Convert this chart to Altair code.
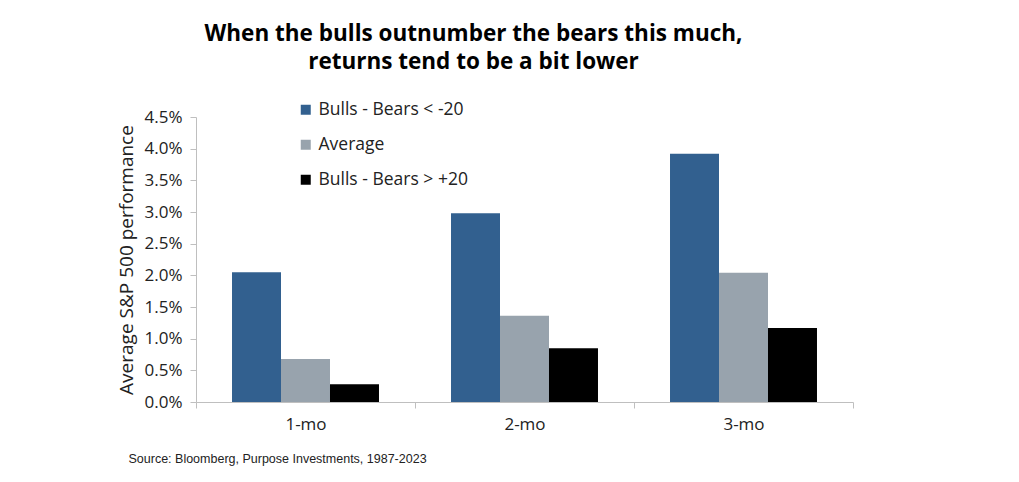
import altair as alt
import pandas as pd

periods = ["1-mo", "2-mo", "3-mo"]
series = ["Bulls - Bears < -20", "Average", "Bulls - Bears > +20"]
bears_lt = [0.0205, 0.0298, 0.0392]
average = [0.0068, 0.0136, 0.0204]
bulls_gt = [0.0028, 0.0085, 0.0117]
colors = ["#32608F", "#98A3AD", "#000000"]

rows = []
for name, vals in zip(series, [bears_lt, average, bulls_gt]):
    for p, v in zip(periods, vals):
        rows.append({"period": p, "series": name, "value": v})
df = pd.DataFrame(rows)

FONT = "Open Sans"

chart = alt.Chart(df).mark_bar().encode(
    x=alt.X("period:N", sort=periods,
            scale=alt.Scale(paddingInner=0, paddingOuter=0),
            axis=alt.Axis(title="Source: Bloomberg, Purpose Investments, 1987-2023",
                          titleFont="Liberation Sans", titleFontSize=12.5, titleFontWeight="normal",
                          titleColor="#222222", titleAnchor="start", titleAlign="left",
                          titleX=-68, titleY=50,
                          labelAngle=0, labelFont=FONT, labelFontSize=17, labelColor="#222222",
                          labelPadding=8, tickBand="extent", tickSize=6, tickColor="#BFBFBF",
                          domainColor="#BFBFBF")),
    xOffset=alt.XOffset("series:N", sort=series,
                        scale=alt.Scale(paddingInner=0, paddingOuter=0.735)),
    y=alt.Y("value:Q", scale=alt.Scale(domain=[0, 0.045], nice=False),
            axis=alt.Axis(format=".1%", values=[i * 0.005 for i in range(10)],
                          title="Average S&P 500 performance", titleFont=FONT,
                          titleFontSize=19, titleFontWeight="normal", titleColor="#222222",
                          titlePadding=8,
                          labelFont=FONT, labelFontSize=17, labelColor="#222222",
                          labelPadding=8, tickSize=6, tickColor="#BFBFBF",
                          domainColor="#BFBFBF", grid=False)),
    color=alt.Color("series:N", sort=series,
                    scale=alt.Scale(domain=series, range=colors),
                    legend=alt.Legend(title=None, orient="none", legendX=101, legendY=-16,
                                      symbolType="square", symbolSize=100, symbolStrokeWidth=0,
                                      labelFont=FONT, labelFontSize=17.5, labelColor="#222222",
                                      rowPadding=16, labelOffset=4)),
).properties(
    width=657, height=285,
    title=alt.TitleParams(["When the bulls outnumber the bears this much,",
                           "returns tend to be a bit lower"],
                          font=FONT, fontSize=22.5, fontWeight="bold", color="#000000",
                          anchor="middle", dx=-51, offset=28, lineHeight=28),
    autosize=alt.AutoSizeParams(type="none"),
    padding={"left": 196, "top": 117, "right": 166, "bottom": 80},
).configure_view(stroke=None)

chart.save("out.html", embed_options={"renderer": "svg", "actions": False})
